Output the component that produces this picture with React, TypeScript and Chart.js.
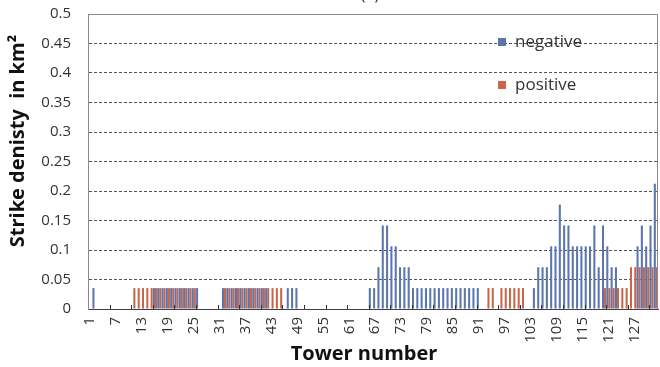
import React, { useEffect, useRef } from 'react';
import { Chart, registerables } from 'chart.js';

Chart.register(...registerables);

// Tower numbers (categories)
const towers: string[] = Array.from({ length: 132 }, (_, i) => String(i + 1));

// Strike density (km^-2), negative flashes, towers 1..132
const negative: number[] = [
  0, 0.0354, 0, 0, 0, 0, 0, 0, 0, 0,
  0, 0, 0, 0, 0, 0.0354, 0.0354, 0.0354, 0.0354, 0.0354,
  0.0354, 0.0354, 0.0354, 0.0354, 0.0354, 0.0354, 0, 0, 0, 0,
  0, 0.0354, 0.0354, 0.0354, 0.0354, 0.0354, 0.0354, 0.0354, 0.0354, 0.0354,
  0.0354, 0.0354, 0, 0, 0, 0, 0.0354, 0.0354, 0.0354, 0,
  0, 0, 0, 0, 0, 0, 0, 0, 0, 0,
  0, 0, 0, 0, 0, 0.0354, 0.0354, 0.0708, 0.1416, 0.1416,
  0.1062, 0.1062, 0.0708, 0.0708, 0.0708, 0.0354, 0.0354, 0.0354, 0.0354, 0.0354,
  0.0354, 0.0354, 0.0354, 0.0354, 0.0354, 0.0354, 0.0354, 0.0354, 0.0354, 0.0354,
  0.0354, 0, 0, 0, 0, 0, 0, 0, 0, 0,
  0, 0, 0, 0.0354, 0.0708, 0.0708, 0.0708, 0.1062, 0.1062, 0.177,
  0.1416, 0.1416, 0.1062, 0.1062, 0.1062, 0.1062, 0.1062, 0.1416, 0.0708, 0.1416,
  0.1062, 0.0708, 0.0708, 0, 0, 0, 0, 0.1062, 0.1416, 0.1062,
  0.1416, 0.2124,
];

// Strike density (km^-2), positive flashes, towers 1..132
const positive: number[] = [
  0, 0, 0, 0, 0, 0, 0, 0, 0, 0,
  0.0354, 0.0354, 0.0354, 0.0354, 0.0354, 0.0354, 0.0354, 0.0354, 0.0354, 0.0354,
  0.0354, 0.0354, 0.0354, 0.0354, 0.0354, 0, 0, 0, 0, 0,
  0, 0.0354, 0.0354, 0.0354, 0.0354, 0.0354, 0.0354, 0.0354, 0.0354, 0.0354,
  0.0354, 0.0354, 0.0354, 0.0354, 0.0354, 0, 0, 0, 0, 0,
  0, 0, 0, 0, 0, 0, 0, 0, 0, 0,
  0, 0, 0, 0, 0, 0, 0, 0, 0, 0,
  0, 0, 0, 0, 0, 0, 0, 0, 0, 0,
  0, 0, 0, 0, 0, 0, 0, 0, 0, 0,
  0, 0, 0.0354, 0.0354, 0, 0.0354, 0.0354, 0.0354, 0.0354, 0.0354,
  0.0354, 0, 0, 0, 0, 0, 0, 0, 0, 0,
  0, 0, 0, 0, 0, 0, 0, 0, 0, 0.0354,
  0.0354, 0.0354, 0.0354, 0.0354, 0.0354, 0.0708, 0.0708, 0.0708, 0.0708, 0.0708,
  0.0708, 0.0708,
];

const seriesNames = ['negative', 'positive'];
const xTitle = 'Tower number';
const yTitle = 'Strike denisty  in km²';
const chartTitle = '(a)';

const BLUE = '#5B76AE';
const RED = '#C8654A';
const FONT = "'Open Sans', sans-serif";

export default function App() {
  const ref = useRef<HTMLCanvasElement>(null);

  useEffect(() => {
    const canvas = ref.current;
    if (!canvas) return;

    const overlay = {
      id: 'overlay',
      afterDatasetsDraw(chart: any) {
        const { ctx, chartArea } = chart;
        const x = chart.scales.x;
        ctx.save();
        ctx.strokeStyle = '#8a8a8a';
        ctx.lineWidth = 1;
        ctx.beginPath();
        ctx.moveTo(Math.round(chartArea.left) + 0.5, Math.round(chartArea.top) + 0.5);
        ctx.lineTo(Math.round(chartArea.right) - 0.5, Math.round(chartArea.top) + 0.5);
        ctx.lineTo(Math.round(chartArea.right) - 0.5, Math.round(chartArea.bottom));
        ctx.stroke();
        ctx.strokeStyle = '#333';
        const w = x.getPixelForValue(1) - x.getPixelForValue(0);
        for (let k = 5; k < towers.length; k += 5) {
          const px = Math.round(x.getPixelForValue(k - 1) + w / 2) + 0.5;
          ctx.beginPath();
          ctx.moveTo(px, chartArea.bottom);
          ctx.lineTo(px, chartArea.bottom - 4);
          ctx.stroke();
        }
        ctx.restore();
      },
      afterDraw(chart: any) {
        const { ctx } = chart;
        ctx.save();
        const items = chart.data.datasets;
        const ly = [42, 85];
        ctx.font = `17px ${FONT}`;
        ctx.textBaseline = 'middle';
        ctx.textAlign = 'left';
        items.forEach((ds: any, i: number) => {
          ctx.fillStyle = ds.backgroundColor;
          ctx.fillRect(498, ly[i] - 4, 8, 8);
          ctx.fillStyle = '#333';
          ctx.fillText(seriesNames[i], 515, ly[i]);
        });
        ctx.fillStyle = '#111';
        ctx.font = `bold 20px ${FONT}`;
        ctx.textAlign = 'center';
        ctx.fillText(xTitle, 364, 354);
        ctx.save();
        ctx.translate(18, 141);
        ctx.rotate(-Math.PI / 2);
        ctx.font = `bold 20px ${FONT}`;
        ctx.fillText(yTitle, 0, 0);
        ctx.restore();
        ctx.font = `16px ${FONT}`;
        ctx.fillStyle = '#333';
        ctx.fillText(chartTitle, 370, -5);
        ctx.restore();
      },
    };

    const chart = new Chart(canvas, {
      type: 'bar',
      data: {
        labels: towers,
        datasets: [
          { label: seriesNames[0], data: negative, backgroundColor: BLUE, borderWidth: 0, categoryPercentage: 0.95, barPercentage: 1 },
          { label: seriesNames[1], data: positive, backgroundColor: RED, borderWidth: 0, categoryPercentage: 0.95, barPercentage: 1 },
        ],
      },
      options: {
        animation: false,
        responsive: false,
        devicePixelRatio: 1,
        layout: { padding: { left: 0, right: 2, top: 14, bottom: 0 } },
        plugins: { legend: { display: false }, tooltip: { enabled: false }, title: { display: false } },
        scales: {
          x: {
            grid: { display: false, drawTicks: false },
            border: { display: true, color: '#404040', width: 1 },
            ticks: {
              autoSkip: false,
              maxRotation: 90,
              minRotation: 90,
              padding: 8,
              color: '#333',
              font: { family: FONT, size: 15 },
              callback: (_v: any, i: number) => (i % 6 === 0 ? towers[i] : ''),
            },
            afterFit: (s: any) => { s.height = 58; s.paddingLeft = 0; s.paddingRight = 0; },
          },
          y: {
            min: 0,
            max: 0.5,
            ticks: {
              stepSize: 0.05,
              padding: 17,
              color: '#333',
              font: { family: FONT, size: 15 },
              callback: (v: any) => String(Number(Number(v).toFixed(2))),
            },
            grid: {
              drawTicks: false,
              lineWidth: 1,
              color: (c: any) => {
                const v = c.tick ? c.tick.value : 0;
                return v < 0.001 || v > 0.499 ? 'rgba(0,0,0,0)' : '#555';
              },
            },
            border: { display: true, color: '#8a8a8a', width: 1, dash: [3, 2] },
            afterFit: (s: any) => { s.width = 88; s.paddingTop = 0; s.paddingBottom = 0; },
          },
        },
      },
      plugins: [overlay],
    });

    return () => chart.destroy();
  }, []);

  return (
    <canvas
      ref={ref}
      width={660}
      height={367}
      style={{ position: 'absolute', left: 0, top: 0, width: 660, height: 367 }}
    />
  );
}
